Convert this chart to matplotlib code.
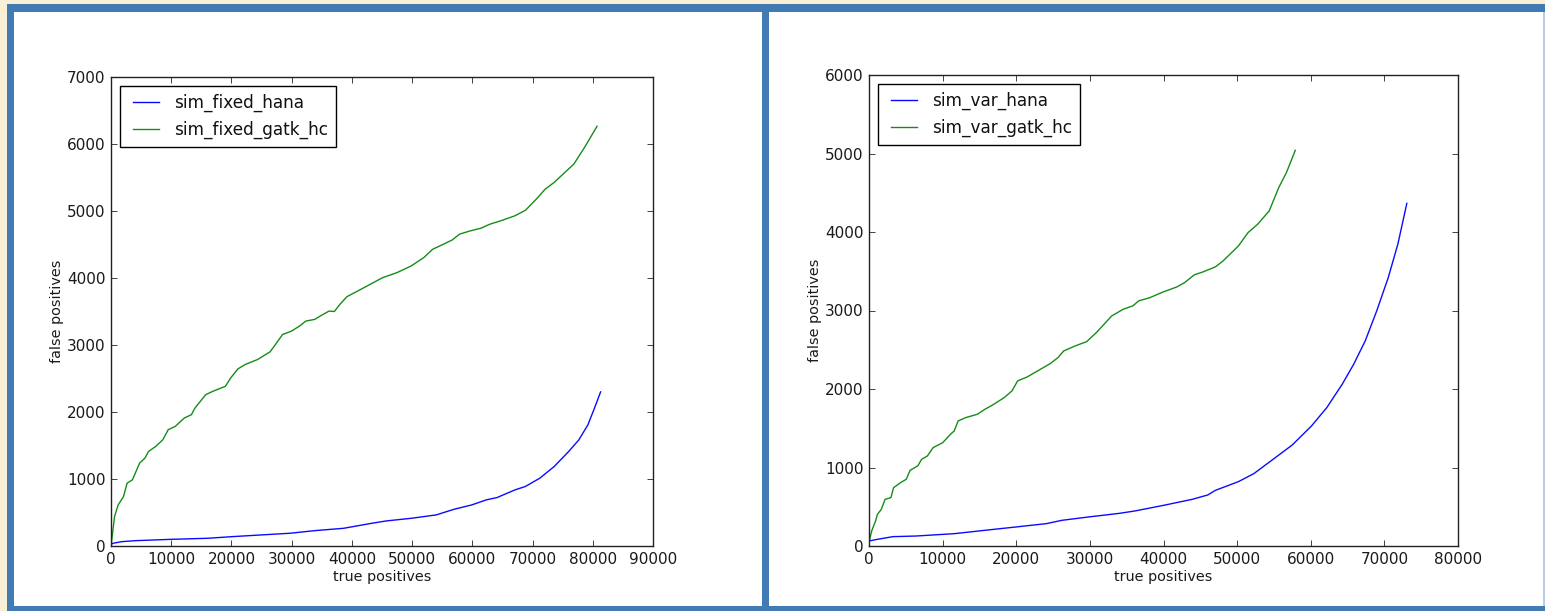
import matplotlib
matplotlib.use("Agg")
import matplotlib.pyplot as plt
from matplotlib.patches import Rectangle
from matplotlib.lines import Line2D
from matplotlib.legend_handler import HandlerLine2D

# ---------------- data ----------------
fixed_hana_tp = [0, 300, 1800, 4200, 10100, 16000, 20200, 24900, 29700, 33800,
                 38600, 43300, 45700, 49900, 54000, 57000, 59900, 62300, 64100,
                 67100, 68800, 71200, 73600, 76000, 77700, 79200, 80400, 81300]
fixed_hana_fp = [20, 40, 65, 80, 100, 115, 140, 165, 190, 229,
                 264, 339, 374, 414, 464, 549, 613, 688, 723,
                 838, 888, 1012, 1187, 1411, 1586, 1810, 2085, 2300]

fixed_gatk_tp = [0, 590, 1190, 2080, 2670, 3560, 4750, 5640, 6230, 7420, 8610,
                 9500, 10680, 12170, 13350, 13950, 15730, 16910, 19000, 19880,
                 21070, 22260, 24330, 26410, 27300, 28490, 29970, 31450, 32340,
                 33830, 34720, 36200, 37090, 38000, 39170, 40950, 43030, 45100,
                 47480, 49850, 51930, 53410, 55190, 56680, 57860, 59640, 61420,
                 62910, 64690, 67060, 68840, 70620, 72110, 73590, 75370, 76860,
                 78640, 80710]
fixed_gatk_fp = [0, 439, 613, 738, 938, 988, 1237, 1312, 1411, 1486, 1586,
                 1736, 1786, 1910, 1960, 2060, 2259, 2309, 2384, 2509,
                 2643, 2708, 2783, 2898, 3007, 3157, 3207, 3292, 3357,
                 3382, 3431, 3506, 3500, 3606, 3721, 3805, 3905, 4005,
                 4080, 4180, 4304, 4429, 4504, 4569, 4654, 4703, 4743,
                 4803, 4853, 4928, 5012, 5177, 5327, 5427, 5576, 5701,
                 5950, 6265]

var_hana_tp = [0, 1150, 3230, 6360, 11580, 15750, 19930, 24100, 26190, 29840,
               34010, 36100, 40270, 43920, 46010, 47050, 50180, 52270, 54880,
               57490, 60100, 62180, 64270, 65830, 67400, 68960, 70530, 71830,
               73050]
var_hana_fp = [64, 85, 119, 127, 157, 200, 242, 285, 327, 370,
               416, 446, 523, 595, 650, 709, 820, 922, 1104,
               1287, 1529, 1763, 2060, 2315, 2613, 2995, 3420, 3845,
               4365]

var_gatk_tp = [0, 365, 890, 1150, 1670, 2190, 2970, 3340, 4280, 5060, 5580,
               6620, 7150, 7930, 8710, 10020, 11060, 11580, 12100, 13150,
               14710, 15750, 16800, 18360, 19410, 20190, 21490, 23060, 24620,
               25670, 26450, 28010, 29580, 30880, 31930, 32970, 34530, 35840,
               36620, 38190, 39750, 41840, 42880, 44180, 45490, 47050, 48100,
               50180, 51490, 52790, 54360, 55660, 56700, 57900]
var_gatk_fp = [50, 191, 319, 404, 467, 595, 616, 743, 807, 850, 964,
               1020, 1104, 1147, 1253, 1317, 1423, 1466, 1593, 1636,
               1678, 1742, 1797, 1890, 1975, 2103, 2154, 2239, 2324,
               2400, 2485, 2549, 2604, 2719, 2825, 2931, 3016, 3059,
               3122, 3165, 3229, 3301, 3356, 3454, 3496, 3556, 3632,
               3823, 3993, 4099, 4269, 4567, 4758, 5040]

left_labels = ["sim_fixed_hana", "sim_fixed_gatk_hc"]
right_labels = ["sim_var_hana", "sim_var_gatk_hc"]
x_label = "true positives"
y_label = "false positives"

# ---------------- figure ----------------
W, H = 1545, 611
DPI = 100
plt.rcParams['font.family'] = ['DejaVu Sans']
fig = plt.figure(figsize=(W / DPI, H / DPI), dpi=DPI)
fig.patch.set_facecolor('#f8efd6')


def frac(x0, y0, x1, y1):
    return [x0 / W, 1 - y1 / H, (x1 - x0) / W, (y1 - y0) / H]


def add_rect(x0, y0, x1, y1, color, z):
    r = Rectangle((x0 / W, 1 - y1 / H), (x1 - x0) / W, (y1 - y0) / H,
                  transform=fig.transFigure, facecolor=color,
                  edgecolor='none', zorder=z)
    fig.patches.append(r)


BLUE = '#427ab4'
add_rect(7, 4, W + 2, H + 2, BLUE, -3)
add_rect(14, 12, 762, 606, 'white', -2)
add_rect(769, 12, W - 2, 606, 'white', -2)
add_rect(W - 2, 12, W, 606, '#b7cde4', -2)

handler = {Line2D: HandlerLine2D(xpad=0.27)}
GREEN = '#168c16'
BLUE_LINE = '#0a0aff'
TXT = '#1a1a1a'


def style_axes(ax, xmax, ymax, xstep, ystep):
    ax.set_xlim(0, xmax)
    ax.set_ylim(0, ymax)
    ax.set_xticks(range(0, xmax + 1, xstep))
    ax.set_yticks(range(0, ymax + 1, ystep))
    ax.tick_params(direction='in', top=True, right=True, length=4.5,
                   width=0.6, labelsize=11, pad=4, colors='#222222',
                   labelcolor=TXT)
    for s in ax.spines.values():
        s.set_linewidth(1.0)
        s.set_color('#222222')
    ax.set_xlabel(x_label, fontsize=10.4, labelpad=2.5, color=TXT)
    ax.set_ylabel(y_label, fontsize=10.4, labelpad=2, color=TXT)


axL = fig.add_axes(frac(111, 77, 653, 546))
axL.plot(fixed_hana_tp, fixed_hana_fp, color=BLUE_LINE, lw=1.0, label=left_labels[0])
axL.plot(fixed_gatk_tp, fixed_gatk_fp, color=GREEN, lw=1.0, label=left_labels[1])
style_axes(axL, 90000, 7000, 10000, 1000)

axR = fig.add_axes(frac(869, 75, 1458, 546))
axR.plot(var_hana_tp, var_hana_fp, color=BLUE_LINE, lw=1.0, label=right_labels[0])
axR.plot(var_gatk_tp, var_gatk_fp, color=GREEN, lw=1.0, label=right_labels[1])
style_axes(axR, 80000, 6000, 10000, 1000)

for ax in (axL, axR):
    leg = ax.legend(loc='upper left', fontsize=12.2, fancybox=False, framealpha=1,
                    edgecolor='black', borderpad=0.45, labelspacing=0.5,
                    handlelength=1.85, handletextpad=0.9, borderaxespad=0.55,
                    handler_map=handler)
    leg.get_frame().set_linewidth(1.0)
    for t in leg.get_texts():
        t.set_color('#111111')

fig.savefig('out.png', dpi=DPI, facecolor=fig.get_facecolor())
